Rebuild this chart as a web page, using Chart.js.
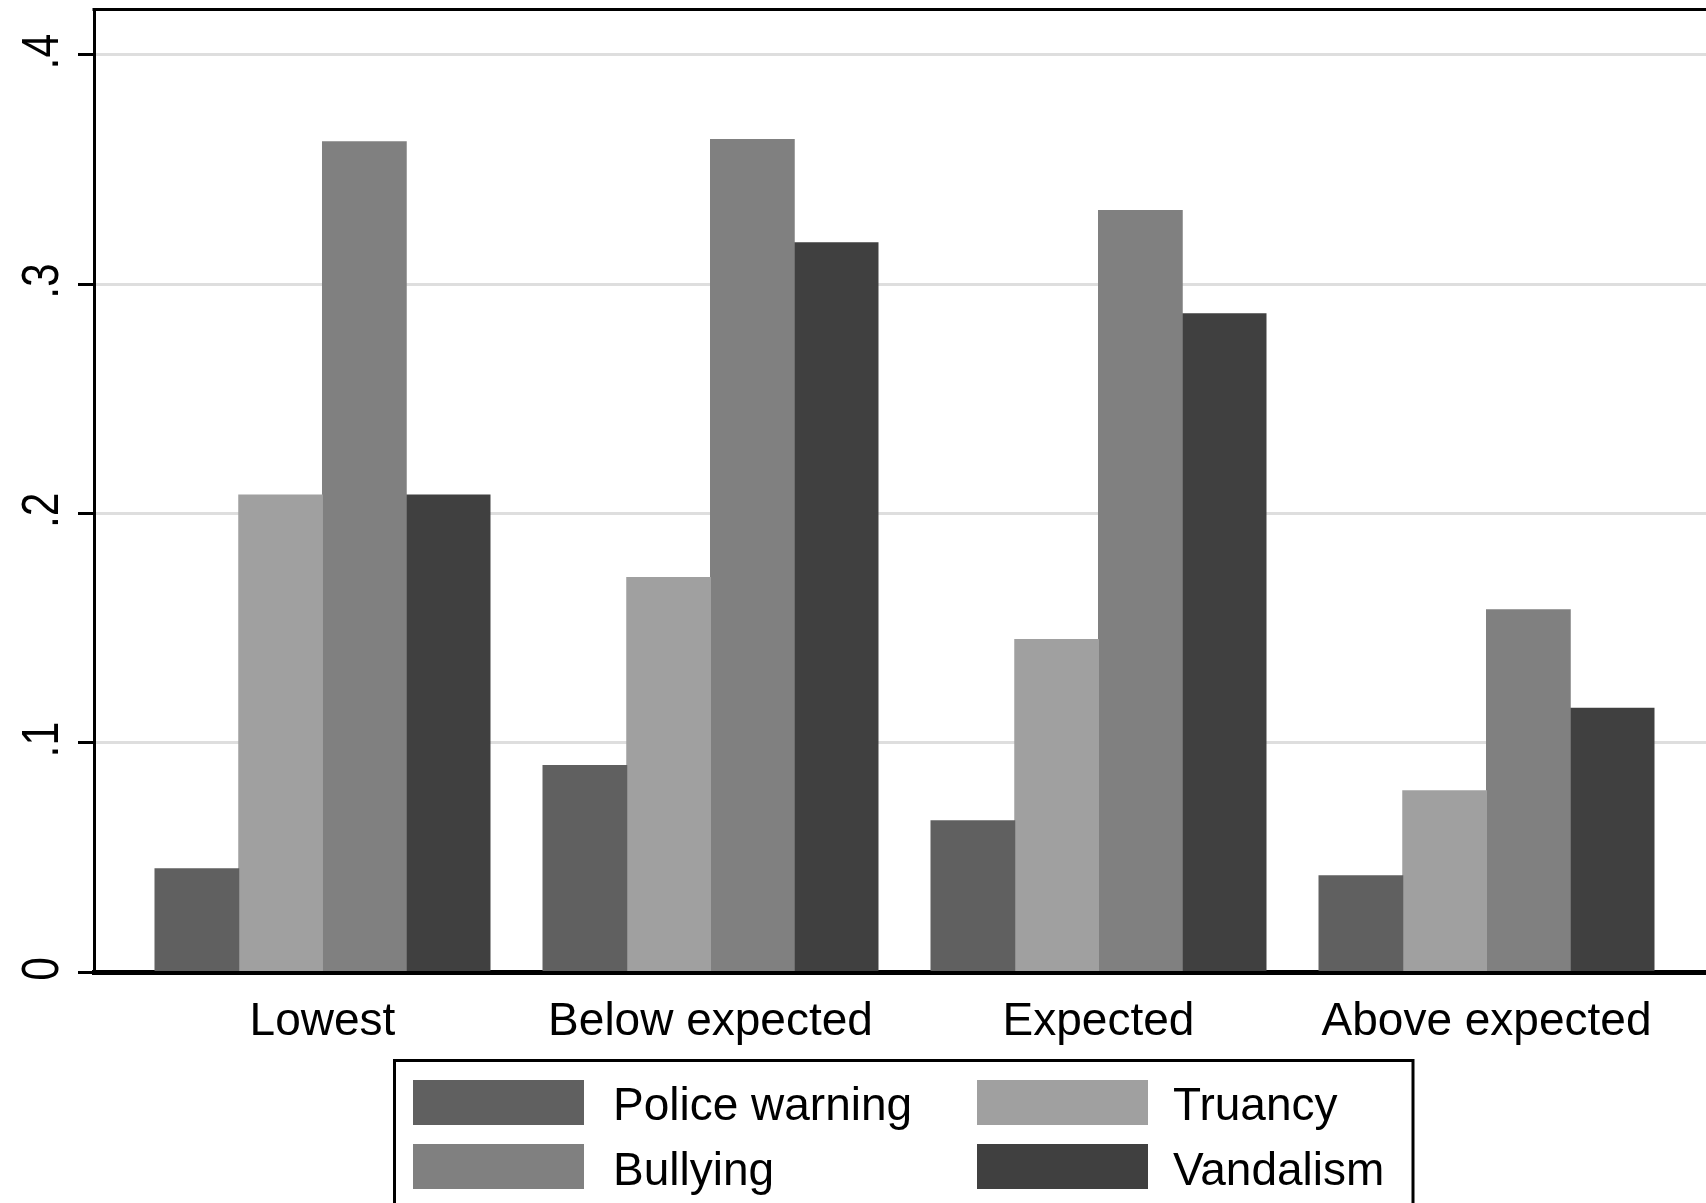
<!DOCTYPE html>
<html>
<head>
<meta charset="utf-8">
<title>Behaviour outcomes by group</title>
<script src="https://cdn.jsdelivr.net/npm/chart.js@4.4.1/dist/chart.umd.min.js"></script>
<style>
  html, body { margin: 0; padding: 0; background: #fff; overflow: hidden; }
  #wrap { width: 1706px; height: 1203px; overflow: hidden; position: relative; }
  canvas { display: block; }
</style>
</head>
<body>
<div id="wrap"><canvas id="chart" width="1730" height="1203"></canvas></div>
<script>
// Groups along the x axis
const categories = ['Lowest', 'Below expected', 'Expected', 'Above expected'];

// Proportion reporting each outcome, per group
const policeWarning = [0.045, 0.090, 0.066, 0.042];
const truancy       = [0.208, 0.172, 0.145, 0.079];
const bullying      = [0.362, 0.363, 0.332, 0.158];
const vandalism     = [0.208, 0.318, 0.287, 0.115];

const seriesNames  = ['Police warning', 'Truancy', 'Bullying', 'Vandalism'];
const seriesColors = ['#606060', '#a0a0a0', '#808080', '#404040'];

// Y axis ticks and their printed labels
const yTicks      = [0, 0.1, 0.2, 0.3, 0.4];
const yTickLabels = ['0', '.1', '.2', '.3', '.4'];

const FONT = '"Liberation Sans", Arial, Helvetica, sans-serif';

const seriesValues = [policeWarning, truancy, bullying, vandalism];

const datasets = seriesNames.map((name, s) => ({
  label: name,
  data: seriesValues[s].map((v, i) => ({ x: i, y: v })),
  backgroundColor: seriesColors[s],
  borderWidth: 0,
  inflateAmount: 0.5,
  categoryPercentage: 0.8634,
  barPercentage: 1.0
}));

// Frame line, rotated y labels and the boxed two-column key
const decorations = {
  id: 'decorations',
  afterDraw(chart) {
    const { ctx, chartArea, scales } = chart;

    // top and right edges of the plot region
    ctx.save();
    ctx.strokeStyle = '#000';
    ctx.lineWidth = 3;
    ctx.beginPath();
    ctx.moveTo(chartArea.left - 1.5, chartArea.top);
    ctx.lineTo(chartArea.right, chartArea.top);
    ctx.lineTo(chartArea.right, chartArea.bottom);
    ctx.stroke();
    ctx.restore();

    // y tick labels, reading upward
    const y = scales.y;
    ctx.save();
    ctx.fillStyle = '#000';
    ctx.font = '52px ' + FONT;
    ctx.textAlign = 'center';
    ctx.textBaseline = 'alphabetic';
    yTicks.forEach((v, i) => {
      const py = y.getPixelForValue(v);
      ctx.save();
      ctx.translate(58, py - 3);
      ctx.rotate(-Math.PI / 2);
      ctx.scale(0.82, 1);
      ctx.fillText(yTickLabels[i], 0, 0);
      ctx.restore();
    });
    ctx.restore();

    // key
    const box = { x: 394.5, y: 1060.5, w: 1018.5, h: 147 };
    const swatchX = [413, 977];
    const textX = [613, 1173];
    const rowTop = [1080, 1144];
    const swatchW = 171, swatchH = 45;
    const baseY = [1120, 1185];
    ctx.save();
    ctx.strokeStyle = '#000';
    ctx.lineWidth = 3;
    ctx.strokeRect(box.x, box.y, box.w, box.h);
    ctx.font = '46px ' + FONT;
    ctx.textAlign = 'left';
    ctx.textBaseline = 'alphabetic';
    chart.data.datasets.forEach((ds, i) => {
      const col = i % 2, row = Math.floor(i / 2);
      ctx.fillStyle = ds.backgroundColor;
      ctx.fillRect(swatchX[col], rowTop[row], swatchW, swatchH);
      ctx.fillStyle = '#000';
      ctx.fillText(ds.label, textX[col], baseY[row]);
    });
    ctx.restore();
  }
};

new Chart(document.getElementById('chart'), {
  type: 'bar',
  data: { datasets },
  options: {
    responsive: false,
    animation: false,
    devicePixelRatio: 1,
    layout: { padding: { top: 9.5, right: 15, left: 0, bottom: 0 } },
    plugins: {
      legend: { display: false },
      tooltip: { enabled: false }
    },
    scales: {
      x: {
        type: 'linear',
        offset: false,
        min: -0.5889,
        max: 3.5889,
        afterBuildTicks: (s) => { s.ticks = categories.map((c, i) => ({ value: i })); },
        afterFit: (s) => { s.height = 231; },
        ticks: {
          callback: (v) => categories[v] ?? '',
          font: { family: FONT, size: 46 },
          color: '#000',
          padding: 23,
          maxRotation: 0,
          minRotation: 0,
          autoSkip: false
        },
        grid: { display: true, offset: false, drawOnChartArea: false, drawTicks: false },
        border: { display: true, color: '#000', width: 5 }
      },
      y: {
        type: 'linear',
        min: 0,
        max: 0.4197,
        afterBuildTicks: (s) => { s.ticks = yTicks.map(v => ({ value: v })); },
        afterFit: (s) => { s.width = 94; },
        ticks: { display: false },
        grid: {
          color: '#dedede',
          lineWidth: 3,
          drawTicks: true,
          tickLength: 16,
          tickColor: '#000',
          tickWidth: 3
        },
        border: { display: true, color: '#000', width: 3 }
      }
    }
  },
  plugins: [decorations]
});
</script>
</body>
</html>
